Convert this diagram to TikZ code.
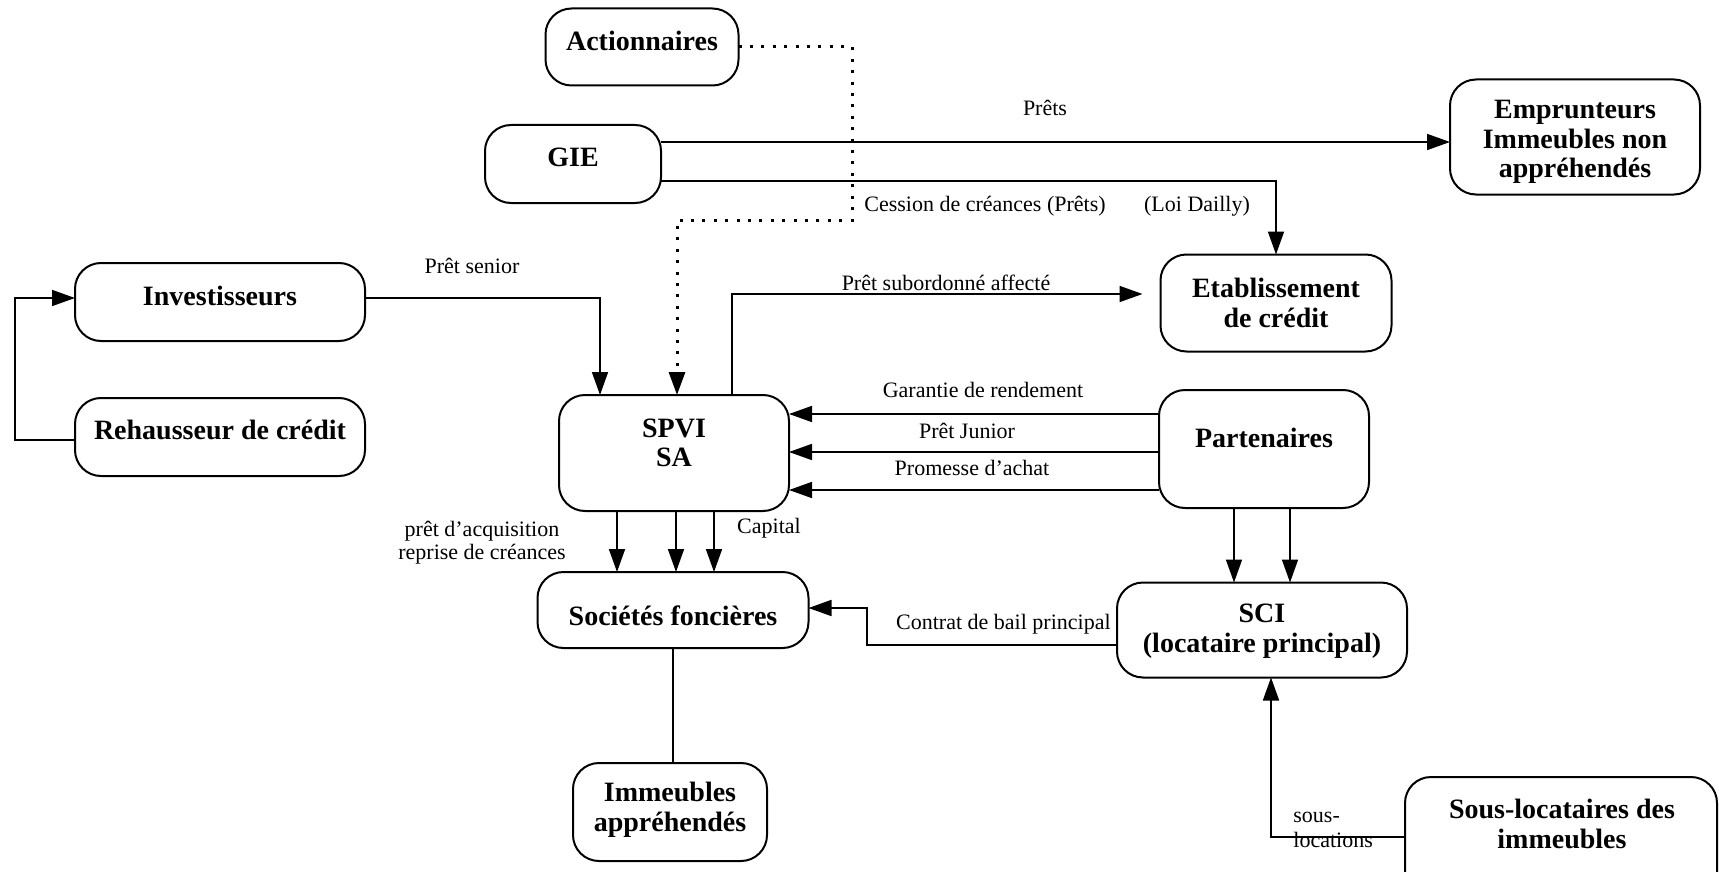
\documentclass[tikz,border=0pt]{standalone}
\usepackage{fontspec}
\setmainfont{Liberation Serif}
\usetikzlibrary{arrows.meta,calc}
\begin{document}
\begin{tikzpicture}[x=0.5pt,y=-0.5pt,
  box/.style={draw, line width=1pt, rounded corners=13pt, inner sep=0pt, outer sep=0pt},
  bt/.style={font=\fontsize{14}{14.8}\selectfont\bfseries, align=center, inner sep=0pt},
  lb/.style={font=\fontsize{11}{11.5}\selectfont, inner sep=0pt},
  arr/.style={line width=0.85pt, -{Triangle[length=11.5pt,width=8pt]}},
  ln/.style={line width=0.85pt},
  dotarr/.style={line width=1.5pt, dash pattern=on 1.5pt off 4.2pt, -{Triangle[length=11.5pt,width=8pt]}}]
\useasboundingbox (0,0) rectangle (1719,872);
\clip (0,0) rectangle (1719,872);

% boxes
\node[box,minimum width=96.5pt,minimum height=38.5pt] (act) at (642,47) {};
\node[bt] (actT) at (642,41) {Actionnaires};
\node[box,minimum width=88pt,minimum height=39pt] (gie) at (573,164) {};
\node[bt] (gieT) at (573,157) {GIE};
\node[box,minimum width=125pt,minimum height=57.5pt] (emp) at (1575,137) {};
\node[bt] (empT) at (1575,142) {Emprunteurs\\Immeubles non\\appréhendés};
\node[box,minimum width=145pt,minimum height=39pt] (inv) at (220,302) {};
\node[bt] (invT) at (220,296) {Investisseurs};
\node[box,minimum width=145pt,minimum height=39pt] (reh) at (220,437) {};
\node[bt] (rehT) at (220,430) {Rehausseur de crédit};
\node[box,minimum width=115.5pt,minimum height=48.5pt] (eta) at (1276,303) {};
\node[bt] (etaT) at (1276,303) {Etablissement\\de crédit};
\node[box,minimum width=115pt,minimum height=58pt] (spvi) at (674,453) {};
\node[bt] (spviT) at (674,443) {SPVI\\SA};
\node[box,minimum width=105pt,minimum height=59pt] (par) at (1264,449) {};
\node[bt] (parT) at (1264,438) {Partenaires};
\node[box,minimum width=135.5pt,minimum height=38pt] (soc) at (673,610) {};
\node[bt] (socT) at (673,616) {Sociétés foncières};
\node[box,minimum width=145pt,minimum height=47.5pt] (sci) at (1262,630) {};
\node[bt] (sciT) at (1262,631) {SCI\\(locataire principal)};
\node[box,minimum width=97pt,minimum height=49pt] (imm) at (670,812) {};
\node[bt] (immT) at (670,810) {Immeubles\\appréhendés};
\node[box,minimum width=156pt,minimum height=64pt] (sous) at (1561,841) {};
\node[bt] (sousT) at (1562,824) {Sous-locataires des\\immeubles};

% coordinates
\coordinate (dA) at (852,220);
\coordinate (loopL) at (15,298);
\coordinate (bailC) at (867,608);

% connectors
\draw[arr] ([yshift=11pt]gie.east) -- ([yshift=11pt]gie.east -| emp.west);
\draw[arr] ([yshift=-8.5pt]gie.east) -| (eta.north);
\draw[dotarr] (act.east) -| (dA) -| ([xshift=1.5pt]spvi.north);
\draw[arr] ([yshift=2pt]inv.east) -| ([xshift=-37pt]spvi.north);
\draw[arr] ([yshift=-1.5pt]reh.west) -| (loopL) -- ([yshift=2pt]inv.west);
\draw[arr, shorten >=9pt] ([xshift=29pt]spvi.north) |- ([yshift=4.5pt]eta.west);
\draw[arr] ([yshift=17.5pt]par.west) -- ([yshift=17.5pt]par.west -| spvi.east);
\draw[arr] ([yshift=-1.5pt]par.west) -- ([yshift=-1.5pt]par.west -| spvi.east);
\draw[arr] ([yshift=-20.5pt]par.west) -- ([yshift=-20.5pt]par.west -| spvi.east);
\draw[arr] ([xshift=-28.5pt]spvi.south) -- ([xshift=-28.5pt]spvi.south |- soc.north);
\draw[arr] ([xshift=1pt]spvi.south) -- ([xshift=1pt]spvi.south |- soc.north);
\draw[arr] ([xshift=20pt]spvi.south) -- ([xshift=20pt]spvi.south |- soc.north);
\draw[arr] ([xshift=-15pt]par.south) -- ([xshift=-15pt]par.south |- sci.north);
\draw[arr] ([xshift=13pt]par.south) -- ([xshift=13pt]par.south |- sci.north);
\draw[arr] ([yshift=-7.5pt]sci.west) -| (bailC) -- (soc.east |- bailC);
\draw[ln] (soc.south) -- (soc.south |- imm.north);
\draw[arr] ([yshift=2pt]sous.west) -| ([xshift=4.5pt]sci.south);

% labels
\node[lb] (l1) at (1045,108) {Prêts};
\node[lb] (l2) at (985,206) {Cession de créances (Prêts)};
\node[lb] (l3) at (1197,206) {(Loi Dailly)};
\node[lb] (l4) at (472,266) {Prêt senior};
\node[lb] (l5) at (946,283) {Prêt subordonné affecté};
\node[lb] (l6) at (983,390) {Garantie de rendement};
\node[lb] (l7) at (967,431) {Prêt Junior};
\node[lb] (l8) at (972,468) {Promesse d'achat};
\node[lb, align=center] (l9) at (482,543) {prêt d'acquisition\\reprise de créances};
\node[lb] (l10) at (769,528) {Capital};
\node[lb, anchor=east] (l11) at (1111,624) {Contrat de bail principal};
\node[lb, anchor=west] (l12) at (1293,817) {sous-};
\node[lb, anchor=west] (l13) at (1293,840) {locations};
\end{tikzpicture}
\end{document}
